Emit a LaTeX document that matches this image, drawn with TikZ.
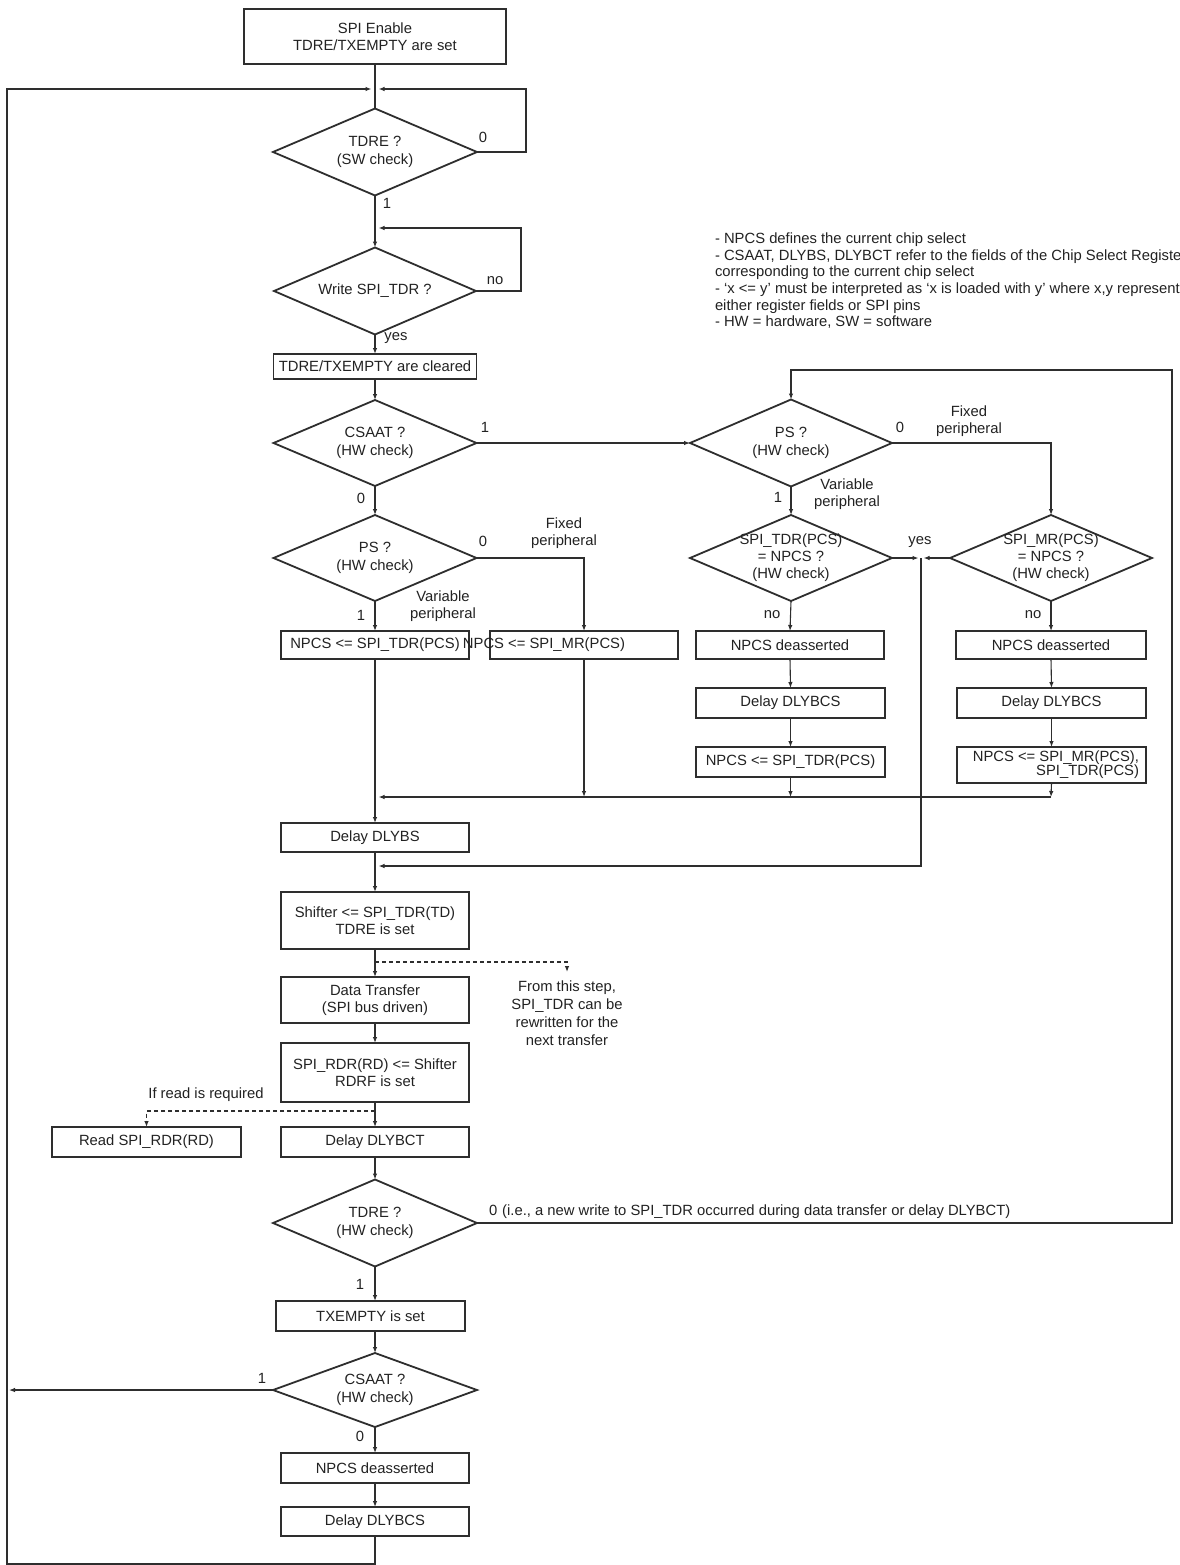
\documentclass[tikz,border=0pt]{standalone}
\usepackage{fontspec}
\setmainfont{Liberation Sans}
\usetikzlibrary{arrows.meta,shapes.geometric}
\definecolor{ln}{HTML}{2E2E2E}
\definecolor{tx}{HTML}{222222}
\begin{document}
\begin{tikzpicture}[x=1pt,y=-1pt,
  font=\fontsize{14.8}{17.5}\selectfont,
  box/.style={draw=ln,line width=1.8pt,inner sep=0pt,outer sep=0pt,align=center,text=tx,minimum width=188pt},
  dia/.style={diamond,draw=ln,line width=1.8pt,inner sep=0pt,outer sep=0pt,minimum width=204pt,minimum height=87pt},
  txt/.style={inner sep=0pt,outer sep=0pt,align=center,text=tx},
  conn/.style={draw=ln,line width=1.1pt,-{Latex[length=6pt,width=4.5pt]}},
  plain/.style={draw=ln,line width=1.1pt},
  dsh/.style={draw=ln,line width=1.1pt,dash pattern=on 4pt off 3pt,-{Latex[length=6pt,width=4.5pt]}}
]
\useasboundingbox (0,0) rectangle (1179,1565);
\fill[white] (0,0) rectangle (1179,1565);
\clip (0,0) rectangle (1179,1565);

% ---------- main column ----------
\node[box,minimum width=262pt,minimum height=55pt] (start) at (375,36.5) {SPI Enable\\TDRE/TXEMPTY are set};
\node[dia] (d1) at (375,152) {};
\node[txt] at (d1) {TDRE ?\\(SW check)};
\node[dia,minimum width=202pt] (d2) at (375,291) {};
\node[txt] at (d2) {Write SPI\_TDR ?};
\node[box,minimum width=203pt,minimum height=25pt] (clr) at (375,366.5) {TDRE/TXEMPTY are cleared};
\node[dia,minimum width=203pt,minimum height=86pt] (d3) at (375,443) {};
\node[txt] at (d3) {CSAAT ?\\(HW check)};
\node[dia,minimum width=203pt,minimum height=86pt] (d4) at (375,558) {};
\node[txt] at (d4) {PS ?\\(HW check)};
\node[box,minimum height=28pt] (bL) at (375,645) {NPCS <= SPI\_TDR(PCS)};
\node[box,minimum height=28pt] (bR) at (584,645) {};
\node[txt] at (544,645) {NPCS <= SPI\_MR(PCS)};
\node[box,minimum height=29pt] (dlybs) at (375,837.5) {Delay DLYBS};
\node[box,minimum height=57pt] (shifter) at (375,920.5) {Shifter <= SPI\_TDR(TD)\\TDRE is set};
\node[box,minimum height=46pt] (xfer) at (375,1000) {Data Transfer\\(SPI bus driven)};
\node[box,minimum height=59pt] (rdr) at (375,1072.5) {SPI\_RDR(RD) <= Shifter\\RDRF is set};
\node[box,minimum height=30pt] (dlybct) at (375,1142) {Delay DLYBCT};
\node[box,minimum width=189pt,minimum height=30pt] (read) at (146.5,1142) {Read SPI\_RDR(RD)};
\node[dia] (d5) at (375,1223) {};
\node[txt] at (d5) {TDRE ?\\(HW check)};
\node[box,minimum width=189pt,minimum height=30pt] (txe) at (370.5,1316) {TXEMPTY is set};
\node[dia,minimum height=74pt] (d6) at (375,1390) {};
\node[txt] at (d6) {CSAAT ?\\(HW check)};
\node[box,minimum height=30pt] (npcsd) at (375,1468) {NPCS deasserted};
\node[box,minimum height=29pt] (dlybcs) at (375,1521.5) {Delay DLYBCS};

% ---------- right part ----------
\node[dia,minimum width=202pt] (d7) at (791,443) {};
\node[txt] at (d7) {PS ?\\(HW check)};
\node[dia,minimum width=202pt,minimum height=86pt] (d8) at (791,558) {};
\node[txt,font=\fontsize{14.8}{17}\selectfont] at (d8) {SPI\_TDR(PCS)\\= NPCS ?\\(HW check)};
\node[dia,minimum width=202pt,minimum height=86pt] (d9) at (1051,558) {};
\node[txt,font=\fontsize{14.8}{17}\selectfont] at (d9) {SPI\_MR(PCS)\\= NPCS ?\\(HW check)};
\node[box,minimum height=28pt] (nd1) at (790,645) {NPCS deasserted};
\node[box,minimum width=189pt,minimum height=30pt] (dc1) at (790.5,703) {Delay DLYBCS};
\node[box,minimum width=189pt,minimum height=30pt] (ns1) at (790.5,762) {NPCS <= SPI\_TDR(PCS)};
\node[box,minimum width=190pt,minimum height=28pt] (nd2) at (1051,645) {NPCS deasserted};
\node[box,minimum width=189pt,minimum height=30pt] (dc2) at (1051.5,703) {Delay DLYBCS};
\node[box,minimum width=189pt,minimum height=36pt] (ns2) at (1051.5,765) {};
\node[txt,align=right,anchor=east,font=\fontsize{14.8}{14}\selectfont] at (1139,765) {NPCS <= SPI\_MR(PCS),\\SPI\_TDR(PCS)};

% ---------- notes ----------
\node[txt,align=left,anchor=north west,font=\fontsize{14.8}{16.6}\selectfont] (notes) at (715,233)
 {- NPCS defines the current chip select\\
  - CSAAT, DLYBS, DLYBCT refer to the fields of the Chip Select Register\\
  corresponding to the current chip select\\
  - ‘x <= y’ must be interpreted as ‘x is loaded with y’ where x,y represent\\
  either register fields or SPI pins\\
  - HW = hardware, SW = software};

% ---------- junction coordinates ----------
\coordinate (jtR) at (378.5,89);
\coordinate (jtL) at (371.5,89);
\coordinate (j2) at (378.5,228);
\coordinate (j3) at (584,797);
\coordinate (j5) at (1051,797);
\coordinate (j4) at (378.5,797);
\coordinate (jy) at (921,558);
\coordinate (jz) at (378.5,866);
\coordinate (ds1) at (375,962);
\coordinate (ds2) at (567,972);
\coordinate (ds3) at (375,1111);
\coordinate (jr) at (1172,370);
\coordinate (jl) at (9,1390);
\coordinate (jb) at (7,1564);

% ---------- connectors ----------
\draw[plain] (start.south) -- (d1.north);
\draw[conn] (d1.east) -- ++(49,0) |- (jtR);
\draw[conn] (d1.south) -- (d2.north);
\draw[conn] (d2.east) -- ++(45,0) |- (j2);
\draw[conn] (d2.south) -- (clr.north);
\draw[conn] (clr.south) -- (d3.north);
\draw[conn] (d3.east) -- (d7.west);
\draw[conn] (d3.south) -- (d4.north);
\draw[conn] (d4.south) -- (bL.north);
\draw[conn] (d4.east) -| (bR.north);
\draw[conn] (bL.south) -- (dlybs.north);
\draw[conn] (bR.south) -- (j3);
\draw[conn] (ns1.south) -- (ns1.south |- j5);
\draw[conn] (ns2.south) -- (j5);
\draw[conn] (j5) -- (j4);
\draw[conn] (d7.south) -- (d8.north);
\draw[conn] (d7.east) -| (d9.north);
\draw[conn] (d8.east) -- ([xshift=-2.5pt]jy);
\draw[conn] (d9.west) -- ([xshift=2.5pt]jy);
\draw[conn] (jy) |- (jz);
\draw[conn] (d8.south) -- (nd1.north);
\draw[conn] (nd1.south) -- (dc1.north);
\draw[conn] (dc1.south) -- (ns1.north);
\draw[conn] (d9.south) -- (nd2.north);
\draw[conn] (nd2.south) -- (dc2.north);
\draw[conn] (dc2.south) -- (ns2.north);
\draw[conn] (dlybs.south) -- (shifter.north);
\draw[conn] (shifter.south) -- (xfer.north);
\draw[dsh] (ds1) -| (ds2);
\draw[conn] (xfer.south) -- (rdr.north);
\draw[conn] (rdr.south) -- (dlybct.north);
\draw[dsh] (ds3) -| (read.north);
\draw[conn] (dlybct.south) -- (d5.north);
\draw[conn] (d5.east) -| (jr) -| (d7.north);
\draw[conn] (d5.south) -- (d5.south |- txe.north);
\draw[conn] (d6.north |- txe.south) -- (d6.north);
\draw[conn] (d6.west) -- (jl);
\draw[conn] (d6.south) -- (npcsd.north);
\draw[conn] (npcsd.south) -- (dlybcs.north);
\draw[conn] (dlybcs.south) |- (jb) |- (jtL);

% ---------- labels ----------
\node[txt] at (483,137) {0};
\node[txt] at (387,203) {1};
\node[txt] at (495,281) {no};
\node[txt] at (396,338) {yes};
\node[txt] at (485,427) {1};
\node[txt] at (361,498) {0};
\node[txt] at (483,541) {0};
\node[txt] at (564,533) {Fixed\\peripheral};
\node[txt] at (361,615) {1};
\node[txt] at (443,606) {Variable\\peripheral};
\node[txt] at (900,427) {0};
\node[txt] at (969,421) {Fixed\\peripheral};
\node[txt] at (778,497) {1};
\node[txt] at (847,494) {Variable\\peripheral};
\node[txt] at (920,542) {yes};
\node[txt] at (772,615) {no};
\node[txt] at (1033,615) {no};
\node[txt,font=\fontsize{14.8}{18}\selectfont] at (567,1013) {From this step,\\SPI\_TDR can be\\rewritten for the\\next transfer};
\node[txt] at (206,1095) {If read is required};
\node[txt,anchor=west] at (489,1212) {0\hspace{5pt}(i.e., a new write to SPI\_TDR occurred during data transfer or delay DLYBCT)};
\node[txt] at (360,1284) {1};
\node[txt] at (262,1378) {1};
\node[txt] at (360,1436) {0};
\end{tikzpicture}
\end{document}
